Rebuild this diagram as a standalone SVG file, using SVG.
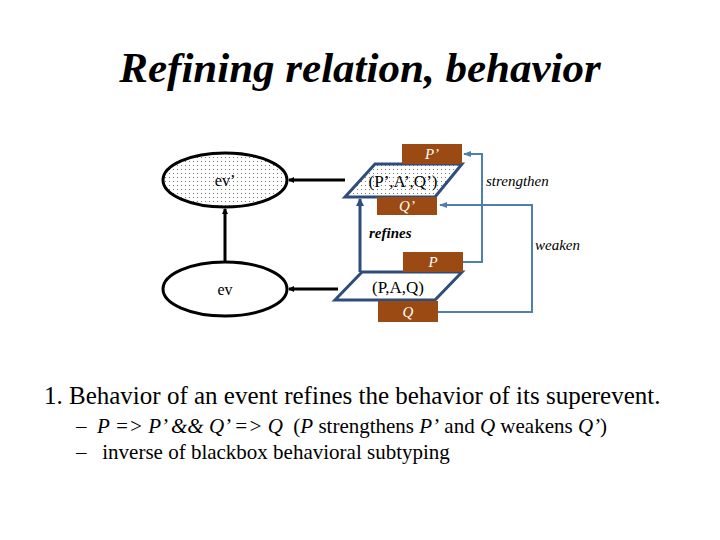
<svg xmlns="http://www.w3.org/2000/svg" width="720" height="540" viewBox="0 0 720 540">
<style>
text{font-family:"Liberation Serif","DejaVu Serif",serif}
.t{fill:#000}
.box{fill:#9A4A12}
.bt{font-style:italic;font-size:15px;fill:#fff;text-anchor:middle}
.para{stroke:#2F4D7A;stroke-width:3;stroke-linejoin:miter}
.blue{fill:none;stroke:#4F7FB0;stroke-width:2}
.blk{stroke:#000;stroke-width:3;fill:none}
</style>
<defs>
<pattern id="dots" width="4" height="4" patternUnits="userSpaceOnUse"><rect width="4" height="4" fill="#fff"/><rect x="1" y="1" width="1" height="1" fill="#777"/></pattern>
<marker id="ab" markerWidth="6" markerHeight="6" refX="5" refY="3" orient="auto" markerUnits="userSpaceOnUse" viewBox="0 0 6 6"><path d="M0,0L6,3L0,6z" fill="#000"/></marker>
<marker id="ad" markerWidth="8" markerHeight="8" refX="7" refY="4" orient="auto" markerUnits="userSpaceOnUse" viewBox="0 0 8 8"><path d="M0,0L8,4L0,8z" fill="#2F4D7A"/></marker>
<marker id="al" markerWidth="8" markerHeight="8" refX="7" refY="4" orient="auto" markerUnits="userSpaceOnUse" viewBox="0 0 8 8"><path d="M0,1L8,4L0,7z" fill="#4F7FB0"/></marker>
</defs>
<text class="t" x="360" y="82" font-size="43" font-weight="bold" font-style="italic" text-anchor="middle">Refining relation, behavior</text>
<g id="connectors">
<line class="blk" x1="345" y1="180" x2="289" y2="180" marker-end="url(#ab)"/>
<line class="blk" x1="338" y1="289" x2="289" y2="289" marker-end="url(#ab)"/>
<line class="blk" x1="225" y1="262" x2="225" y2="209" marker-end="url(#ab)"/>
<line x1="360" y1="272" x2="360" y2="199" stroke="#2F4D7A" stroke-width="3" marker-end="url(#ad)"/>
<polyline class="blue" points="463,262 482,262 482,154 464,154" marker-end="url(#al)"/>
<polyline class="blue" points="438,312 532,312 532,205 440,205" marker-end="url(#al)"/>
</g>
<g id="ev2">
<ellipse cx="225" cy="180" rx="62" ry="27" fill="url(#dots)" stroke="#000" stroke-width="3"/>
<text class="t" x="225" y="186" font-size="16" text-anchor="middle">ev’</text>
</g>
<g id="ev">
<ellipse cx="225" cy="289" rx="62" ry="27" fill="#fff" stroke="#000" stroke-width="3"/>
<text class="t" x="225" y="295" font-size="16" text-anchor="middle">ev</text>
</g>
<g id="spec2">
<polygon class="para" points="375,164 462,164 435,197 345,197" fill="url(#dots)"/>
<text class="t" x="403" y="187" font-size="17" text-anchor="middle">(P’,A’,Q’)</text>
<rect class="box" x="402" y="144" width="60" height="20"/>
<text class="bt" x="432" y="159">P’</text>
<rect class="box" x="377" y="197" width="60" height="18"/>
<text class="bt" x="407" y="211">Q’</text>
</g>
<g id="spec">
<polygon class="para" points="362,272 462,272 435,300 335,300" fill="#fff"/>
<text class="t" x="398" y="293" font-size="17" text-anchor="middle">(P,A,Q)</text>
<rect class="box" x="403" y="252" width="60" height="20"/>
<text class="bt" x="433" y="267">P</text>
<rect class="box" x="378" y="301" width="60" height="21"/>
<text class="bt" x="408" y="317">Q</text>
</g>
<text class="t" x="369" y="238" font-size="15" font-weight="bold" font-style="italic">refines</text>
<text class="t" x="486" y="186" font-size="15" font-style="italic">strengthen</text>
<text class="t" x="535" y="250" font-size="15" font-style="italic">weaken</text>
<text class="t" x="44" y="404" font-size="25">1. Behavior of an event refines the behavior of its superevent.</text>
<text class="t" x="76" y="433" font-size="21" xml:space="preserve">–  <tspan font-style="italic">P =&gt; P’ &amp;&amp; Q’ =&gt; Q</tspan>  (<tspan font-style="italic">P</tspan> strengthens <tspan font-style="italic">P’</tspan> and <tspan font-style="italic">Q</tspan> weakens <tspan font-style="italic">Q’</tspan>)</text>
<text class="t" x="76" y="459" font-size="21" xml:space="preserve">–   inverse of blackbox behavioral subtyping</text>
</svg>
